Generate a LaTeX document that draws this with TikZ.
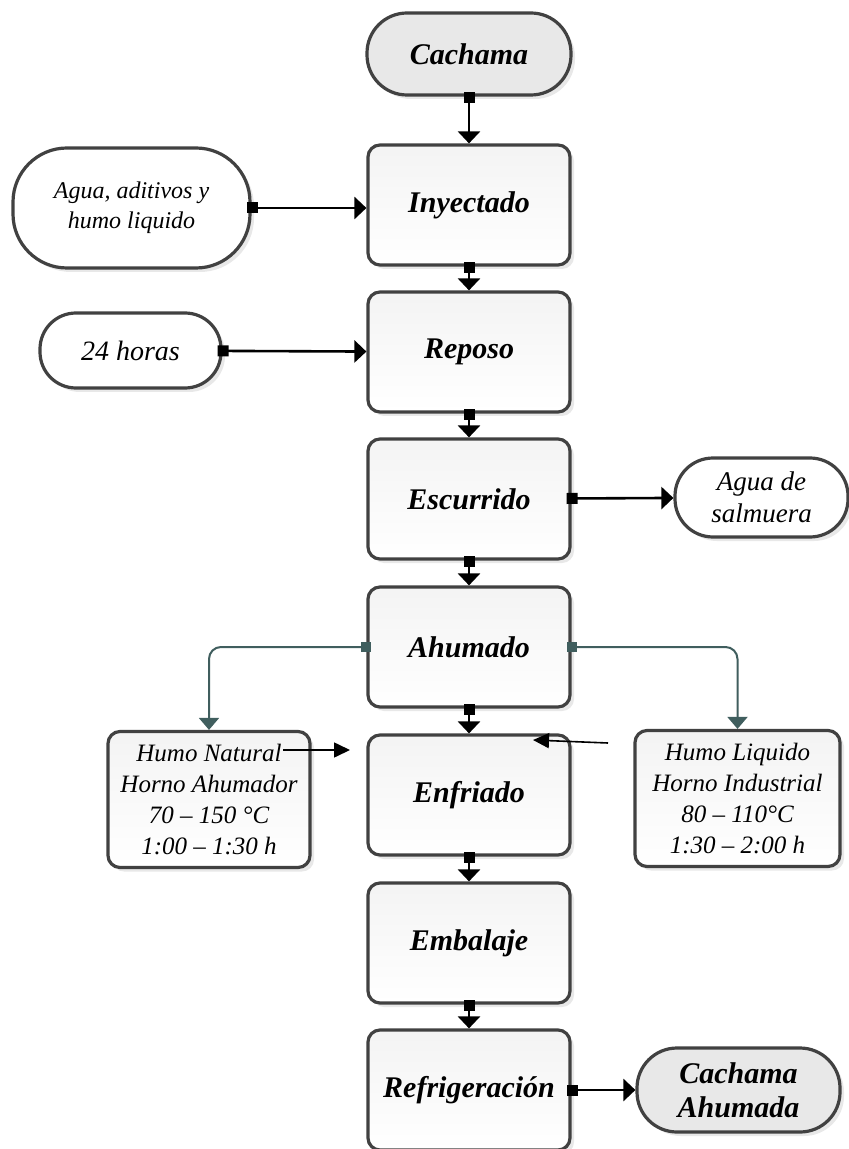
\documentclass[tikz,border=0pt]{standalone}
\usepackage{fontspec}
\setmainfont{Liberation Serif}
\usetikzlibrary{arrows.meta}
\usetikzlibrary{shadows}
\usetikzlibrary{positioning}

\definecolor{slateLine}{RGB}{64,94,94}
\definecolor{borderGray}{RGB}{65,65,65}

\begin{document}
\begin{tikzpicture}[x=0.5pt, y=-0.5pt,
  boxShadow/.style={drop shadow={opacity=0.18, shadow xshift=2pt, shadow yshift=-2pt}},
  processBox/.style={draw=borderGray, line width=1.6pt, rounded corners=6pt,
    top color=gray!9, bottom color=white, boxShadow, inner sep=0pt,
    minimum width=101pt, minimum height=60pt, align=center,
    font=\fontsize{15}{18}\selectfont\bfseries\itshape},
  startEnd/.style={draw=borderGray, line width=1.6pt, fill=gray!18, boxShadow,
    inner sep=0pt, align=center, font=\fontsize{15}{17}\selectfont\bfseries\itshape},
  sideInput/.style={draw=borderGray, line width=1.6pt, fill=white, boxShadow,
    inner sep=0pt, align=center, font=\fontsize{12}{15}\selectfont\itshape},
  smokeBox/.style={draw=borderGray, line width=1.6pt, rounded corners=6pt,
    top color=gray!9, bottom color=white, boxShadow, inner sep=0pt,
    minimum height=68pt, align=center, font=\fontsize{12.5}{15.5}\selectfont\itshape},
  flowArrow/.style={draw=black, line width=1.3pt, shorten <=-2.5pt,
    {Square[length=5.5pt,width=5.5pt]}-{Triangle[length=6pt,width=11pt]}},
  smokeArrow/.style={draw=slateLine, line width=1pt, rounded corners=6pt, shorten <=-2.5pt,
    {Square[length=5pt,width=5pt]}-{Triangle[length=6pt,width=10pt]}},
  looseArrow/.style={draw=black, line width=0.8pt, -{Triangle[length=8pt,width=7.5pt]}}]

\pgfmathsetmacro{\colx}{469}

% --- Page size ---
\useasboundingbox (0,0) rectangle (849,1149);

% --- Main column ---
\node [startEnd, rounded corners=20pt, minimum width=102pt, minimum height=41pt] (cachama) at (\colx,54) {Cachama};
\node [processBox] (inyectado) at (\colx,205) {Inyectado};
\node [processBox] (reposo) at (\colx,352) {Reposo};
\node [processBox] (escurrido) at (\colx,499) {Escurrido};
\node [processBox] (ahumado) at (\colx,647) {Ahumado};
\node [processBox] (enfriado) at (\colx,795) {Enfriado};
\node [processBox] (embalaje) at (\colx,943) {Embalaje};
\node [processBox] (refrigeracion) at (\colx,1090) {Refrigeración};

% --- Inputs and outputs ---
\node [sideInput, rounded corners=27pt, minimum width=118.5pt, minimum height=60pt] (aguaAditivos) at (131.5,208) {Agua, aditivos y\\humo liquido};
\node [sideInput, rounded corners=18pt, minimum width=90.5pt, minimum height=37.5pt, font=\fontsize{14}{16}\selectfont\itshape] (veinticuatroHoras) at (130.5,350.5) {24 horas};
\node [sideInput, rounded corners=19pt, minimum width=86.5pt, minimum height=39.5pt, font=\fontsize{13.5}{16}\selectfont\itshape] (aguaSalmuera) at (761.5,497.5) {Agua de\\salmuera};
\node [startEnd, rounded corners=20pt, minimum width=101.5pt, minimum height=42pt] (cachamaAhumada) at (738.5,1090) {Cachama\\Ahumada};

% --- Smoking options ---
\node [smokeBox, minimum width=101pt] (humoNatural) at (209,799.5) {Humo Natural\\Horno Ahumador\\70 -- 150 °C\\1:00 -- 1:30 h};
\node [smokeBox, minimum width=102.5pt] (humoLiquido) at (737.5,798.5) {Humo Liquido\\Horno Industrial\\80 -- 110°C\\1:30 -- 2:00 h};

% draw main flow
\draw [flowArrow] (cachama) -- (inyectado);
\draw [flowArrow] (inyectado) -- (reposo);
\draw [flowArrow] (reposo) -- (escurrido);
\draw [flowArrow] (escurrido) -- (ahumado);
\draw [flowArrow] (ahumado) -- (enfriado);
\draw [flowArrow] (enfriado) -- (embalaje);
\draw [flowArrow] (embalaje) -- (refrigeracion);

% draw side flows
\draw [flowArrow] (aguaAditivos.east) -- (inyectado.west |- aguaAditivos.east);
\draw [flowArrow] (veinticuatroHoras) -- (reposo);
\draw [flowArrow] (escurrido) -- (aguaSalmuera);
\draw [flowArrow] (refrigeracion) -- (cachamaAhumada);

% draw smoke branches
\draw [smokeArrow] (ahumado.west) -| (humoNatural.north);
\draw [smokeArrow] (ahumado.east) -| (humoLiquido.north);

% loose arrows near Enfriado
\coordinate (looseLeftStart) at (283,750);
\coordinate (looseLeftEnd) at (350,750);
\coordinate (looseRightStart) at (608,743);
\coordinate (looseRightEnd) at (533,740);
\draw [looseArrow] (looseLeftStart) -- (looseLeftEnd);
\draw [looseArrow] (looseRightStart) -- (looseRightEnd);

\end{tikzpicture}
\end{document}
